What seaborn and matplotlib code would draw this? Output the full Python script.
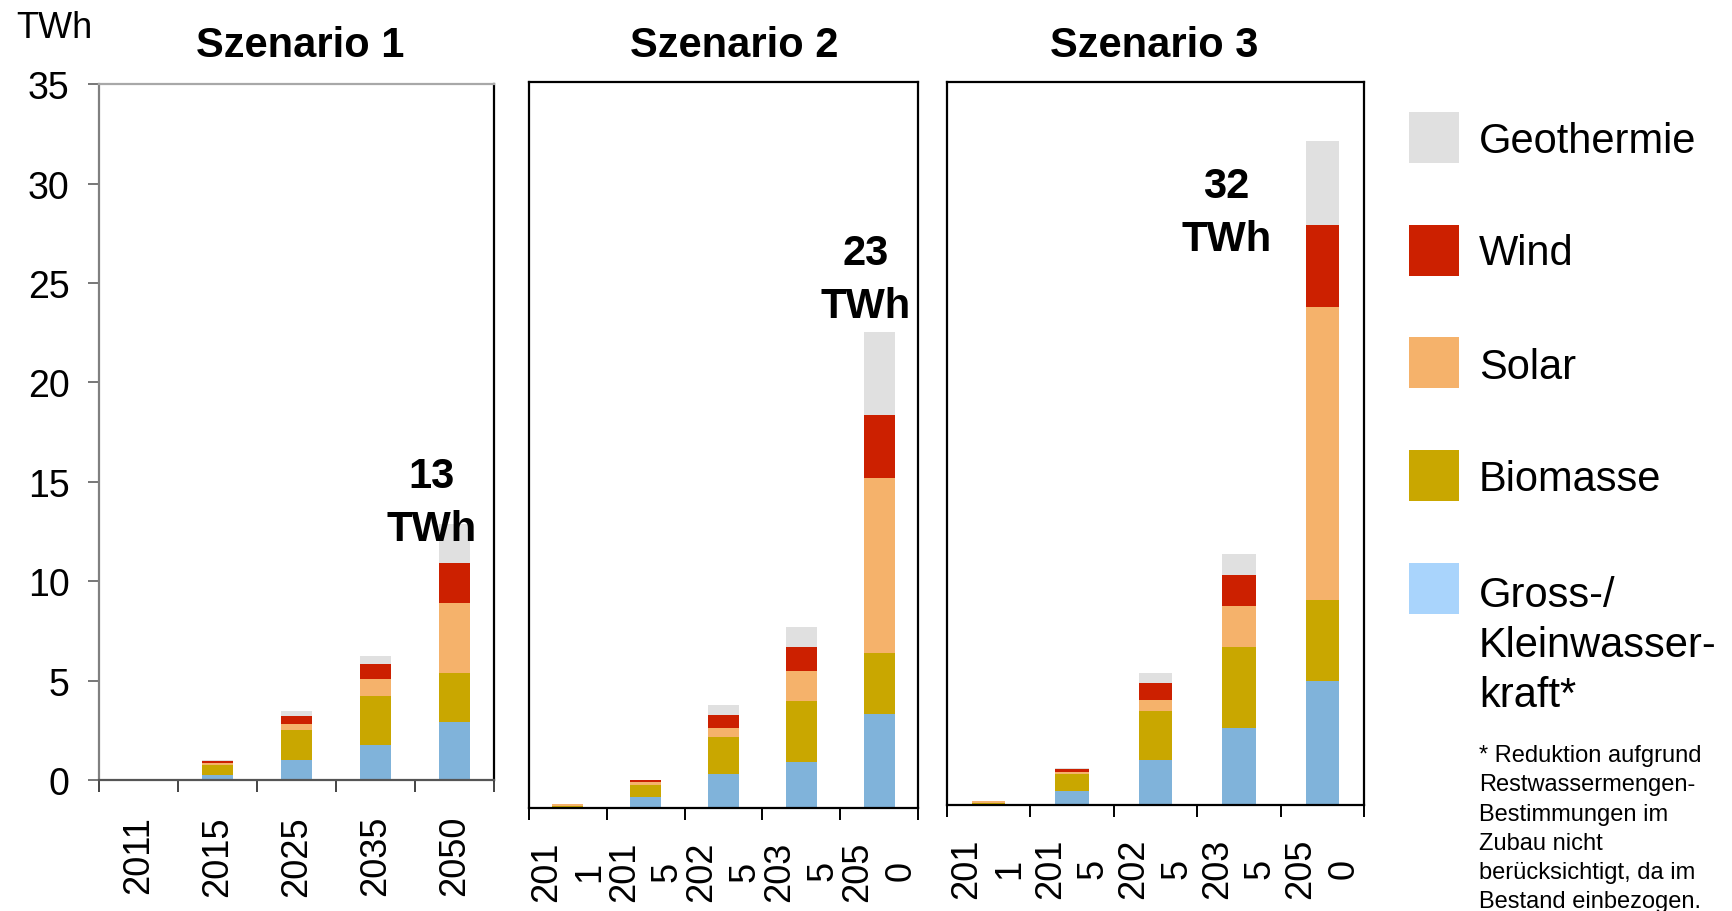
import numpy as np
import pandas as pd
import matplotlib.pyplot as plt
import matplotlib.transforms as mtransforms
import seaborn as sns
from matplotlib.patches import Rectangle

# data (TWh), bottom to top of each stack
years = ['2011', '2015', '2025', '2035', '2050']
years_split = ['201\n1', '201\n5', '202\n5', '203\n5', '205\n0']
sources = ['Wasserkraft', 'Biomasse', 'Solar', 'Wind', 'Geothermie']

hydro_1 = [0.00, 0.29, 1.03, 1.79, 2.93]
bio_1 = [0.02, 0.47, 1.49, 2.46, 2.46]
solar_1 = [0.05, 0.12, 0.32, 0.85, 3.52]
wind_1 = [0.00, 0.09, 0.38, 0.76, 2.03]
geo_1 = [0.00, 0.03, 0.24, 0.41, 1.96]

hydro_2 = [0.05, 0.53, 1.66, 2.25, 4.55]
bio_2 = [0.07, 0.57, 1.77, 2.92, 2.93]
solar_2 = [0.08, 0.17, 0.45, 1.44, 8.46]
wind_2 = [0.00, 0.08, 0.62, 1.15, 3.01]
geo_2 = [0.00, 0.03, 0.48, 0.98, 3.99]

hydro_3 = [0.05, 0.71, 2.20, 3.75, 6.04]
bio_3 = [0.05, 0.79, 2.37, 3.93, 3.90]
solar_3 = [0.10, 0.11, 0.54, 1.97, 14.19]
wind_3 = [0.00, 0.17, 0.82, 1.50, 3.98]
geo_3 = [0.00, 0.03, 0.48, 1.04, 4.04]

titles = ['Szenario 1', 'Szenario 2', 'Szenario 3']
totals = ['13\nTWh', '23\nTWh', '32\nTWh']

bar_colors = {'Wasserkraft': '#80b3da', 'Biomasse': '#c9a700', 'Solar': '#f5b26b',
              'Wind': '#cc2000', 'Geothermie': '#e0e0e0'}
legend_labels = ['Geothermie', 'Wind', 'Solar', 'Biomasse', 'Gross-/\nKleinwasser-\nkraft*']
legend_colors = ['#e0e0e0', '#cc2000', '#f5b26b', '#c9a700', '#a9d4fc']

scen = [
    pd.DataFrame({'Wasserkraft': hydro_1, 'Biomasse': bio_1, 'Solar': solar_1, 'Wind': wind_1, 'Geothermie': geo_1}, index=years),
    pd.DataFrame({'Wasserkraft': hydro_2, 'Biomasse': bio_2, 'Solar': solar_2, 'Wind': wind_2, 'Geothermie': geo_2}, index=years),
    pd.DataFrame({'Wasserkraft': hydro_3, 'Biomasse': bio_3, 'Solar': solar_3, 'Wind': wind_3, 'Geothermie': geo_3}, index=years),
]

sns.set_style('ticks')
plt.rcParams['font.family'] = ['Liberation Sans', 'DejaVu Sans']
plt.rcParams['text.color'] = 'black'
plt.rcParams['xtick.color'] = 'black'
plt.rcParams['ytick.color'] = 'black'
plt.rcParams['xtick.labelcolor'] = 'black'
plt.rcParams['ytick.labelcolor'] = 'black'

fig = plt.figure(figsize=(17.33, 9.12), dpi=100)
boxes = [[0.0571, 0.1433, 0.2279, 0.7634],
         [0.3052, 0.1126, 0.2246, 0.7960],
         [0.5463, 0.1158, 0.2408, 0.7928]]
# position of the last line ("TWh") baseline
label_pos = [(3.71, 12.1), (3.83, 23.7), (2.85, 26.9)]
title_x = [300, 734, 1154]
shift = mtransforms.ScaledTranslation(0.05, 0, fig.dpi_scale_trans)

for i, df in enumerate(scen):
    ax = fig.add_axes(boxes[i])
    cum = df[sources].cumsum(axis=1)
    for src in reversed(sources):
        sns.barplot(x=years, y=cum[src].values, order=years, color=bar_colors[src],
                    saturation=1, width=0.4, linewidth=0, errorbar=None, ax=ax)
    ax.set_xlim(-0.5, 4.5)
    ax.set_ylim(0, 35)
    ax.set_xticks(range(5))
    ax.set_xticks(np.arange(-0.5, 5, 1), minor=True)
    ax.set_xticklabels(years if i == 0 else years_split, rotation=90, fontsize=26)
    for t in ax.get_xticklabels():
        t.set_linespacing(1.3)
        t.set_transform(t.get_transform() + shift)
    ax.tick_params(axis='x', which='major', length=0, pad=25 if i == 0 else 23)
    ax.tick_params(axis='x', which='minor', length=8.5, width=1.4, direction='out',
                   color='#444444' if i == 0 else 'black')
    ax.set_xlabel('')
    for s in ax.spines.values():
        s.set_linewidth(1.6)
        s.set_color('black')
    if i == 0:
        ax.set_yticks(range(0, 36, 5))
        ax.tick_params(axis='y', length=8, width=1.4, color='#777777', pad=13, labelsize=27)
        ax.spines['top'].set_color('#a8a8a8')
        ax.spines['left'].set_color('#808080')
        ax.spines['bottom'].set_color('#555555')
    else:
        ax.set_yticks([])
    ax.set_ylabel('')
    ax.text(label_pos[i][0], label_pos[i][1], totals[i], ha='center', va='baseline',
            fontsize=30, fontweight='bold', linespacing=1.4)
    fig.text(title_x[i] / 1733, 1 - 56.6 / 912, titles[i], ha='center', va='baseline',
             fontsize=30, fontweight='bold')

fig.text(16 / 1733, 1 - 38 / 912, 'TWh', ha='left', va='baseline', fontsize=26)

# legend
last_base = [152.8, 265.3, 379, 491, 707]
for k, (lab, col) in enumerate(zip(legend_labels, legend_colors)):
    top = 113 + k * 112.7
    fig.add_artist(Rectangle((1409 / 1733, 1 - (top + 51) / 912), 50 / 1733, 51 / 912,
                             facecolor=col, edgecolor='none', transform=fig.transFigure))
    fig.text(1479 / 1733, 1 - last_base[k] / 912, lab, ha='left', va='baseline',
             fontsize=30, linespacing=1.32)

fig.text(1479 / 1733, 1 - 908 / 912,
         '* Reduktion aufgrund\nRestwassermengen-\nBestimmungen im\nZubau nicht\n'
         'berücksichtigt, da im\nBestand einbezogen.',
         ha='left', va='baseline', fontsize=17, linespacing=1.42)

plt.savefig('out.png', dpi=100, facecolor='w')
